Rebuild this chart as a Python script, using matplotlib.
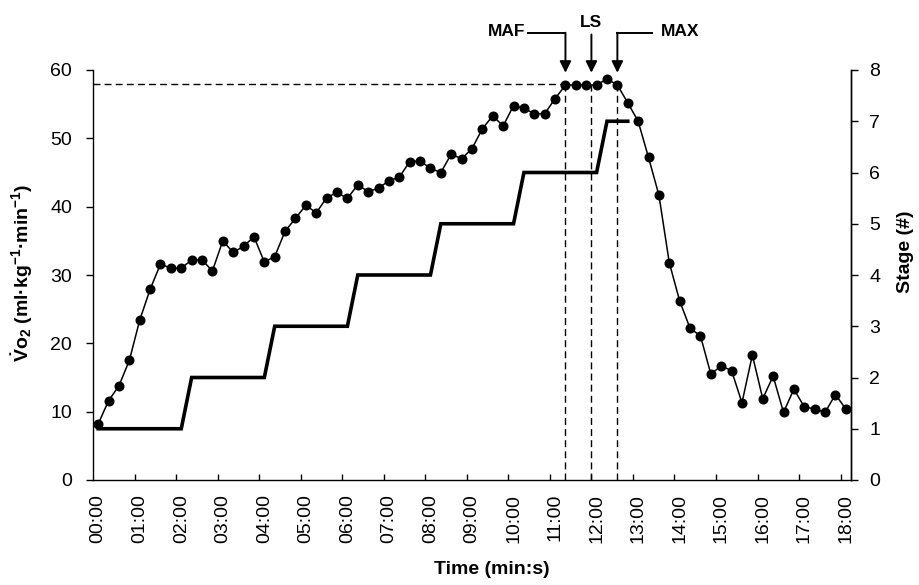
import numpy as np
import matplotlib
matplotlib.use("Agg")
import matplotlib.pyplot as plt

plt.rcParams["font.family"] = ["Liberation Sans", "DejaVu Sans"]
plt.rcParams["mathtext.fontset"] = "custom"
plt.rcParams["mathtext.rm"] = "Liberation Sans:bold"
plt.rcParams["mathtext.it"] = "Liberation Sans:bold:italic"
plt.rcParams["mathtext.bf"] = "Liberation Sans:bold"

# VO2 sampled every 15 s (ml/kg/min)
vo2 = [8.2, 11.6, 13.8, 17.5, 23.4, 27.9, 31.6, 31.0, 31.0, 32.2,
       32.2, 30.6, 35.0, 33.3, 34.2, 35.6, 31.9, 32.7, 36.4, 38.3,
       40.2, 39.1, 41.3, 42.1, 41.2, 43.2, 42.2, 42.7, 43.8, 44.3,
       46.6, 46.7, 45.6, 45.0, 47.7, 47.0, 48.5, 51.4, 53.3, 51.8,
       54.8, 54.4, 53.6, 53.6, 55.8, 57.8, 57.8, 57.8, 57.8, 58.7,
       57.8, 55.2, 52.5, 47.2, 41.7, 31.8, 26.2, 22.2, 21.1, 15.5,
       16.7, 16.0, 11.3, 18.3, 11.9, 15.2, 9.9, 13.3, 10.7, 10.4,
       9.9, 12.5, 10.4]

# stage number, same 15 s sampling, until end of test
stage = [1, 1, 1, 1, 1, 1, 1, 1, 1,
         2, 2, 2, 2, 2, 2, 2, 2,
         3, 3, 3, 3, 3, 3, 3, 3,
         4, 4, 4, 4, 4, 4, 4, 4,
         5, 5, 5, 5, 5, 5, 5, 5,
         6, 6, 6, 6, 6, 6, 6, 6,
         7, 7, 7]

# markers (minutes)
maf_t = 11.25
ls_t = 11.875
max_t = 12.5
plateau = 58.0

tick_labels = ["%02d:00" % m for m in range(19)]

t_vo2 = np.arange(len(vo2)) * 15 / 60.0
t_stage = np.arange(len(stage)) * 15 / 60.0

fig = plt.figure(figsize=(9.19, 5.85), dpi=100)
ax = fig.add_axes([93 / 919, 1 - 480 / 585, 758 / 919, 410 / 585])
ax2 = ax.twinx()

ax2.plot(t_stage, stage, color="black", linewidth=2.6, solid_joinstyle="miter", zorder=2)
ax.plot(t_vo2, vo2, color="black", linewidth=1.1, marker="o", markersize=6.2, zorder=3)

# dashed reference lines
dash = dict(color="black", linewidth=1.0, linestyle=(0, (5, 3)))
ax.plot([-0.125, maf_t], [plateau, plateau], **dash)
for xv in (maf_t, ls_t, max_t):
    ax.plot([xv, xv], [0, 57.8], **dash)

ax.set_xlim(-0.125, 18.125)
ax.set_ylim(0, 60)
ax2.set_ylim(0, 8)
ax.set_zorder(ax2.get_zorder() + 1)
ax.patch.set_visible(False)

ax.set_xticks(range(19))
ax.set_xticklabels(tick_labels, rotation=90, fontsize=14)
ax.set_xticks([k - 0.125 for k in range(1, 19)], minor=True)
ax.tick_params(axis="x", which="major", length=0, pad=10)
ax.tick_params(axis="x", which="minor", direction="in", length=4, width=1)
ax.set_yticks(range(0, 61, 10))
ax.tick_params(axis="y", labelsize=14, length=5, width=1, pad=10)
ax2.set_yticks(range(0, 9))
ax2.tick_params(axis="y", labelsize=14, length=5, width=1, pad=8)

for a in (ax, ax2):
    a.spines["top"].set_visible(False)
    for s in a.spines.values():
        s.set_linewidth(1.0)
ax2.spines["left"].set_visible(False)
ax2.spines["bottom"].set_visible(False)

# annotations above the plot
y_top = 65.45
y_tip = 59.6
line = dict(color="black", linewidth=1.4, clip_on=False)
arrow = dict(arrowstyle="-|>", color="black", lw=1.4, mutation_scale=17, shrinkA=0, shrinkB=0)
ax.plot([10.36, maf_t], [y_top, y_top], **line)
ax.annotate("", xy=(maf_t, y_tip), xytext=(maf_t, y_top), arrowprops=arrow, annotation_clip=False)
ax.annotate("", xy=(ls_t, y_tip), xytext=(ls_t, 65.2), arrowprops=arrow, annotation_clip=False)
ax.plot([13.34, max_t], [y_top, y_top], **line)
ax.annotate("", xy=(max_t, y_tip), xytext=(max_t, y_top), arrowprops=arrow, annotation_clip=False)
ax.text(10.28, 65.6, "MAF", ha="right", va="center", fontsize=12.5, fontweight="bold", clip_on=False)
ax.text(ls_t, 66.9, "LS", ha="center", va="center", fontsize=12.5, fontweight="bold", clip_on=False)
ax.text(13.54, 65.6, "MAX", ha="left", va="center", fontsize=12.5, fontweight="bold", clip_on=False)

fig.text(492 / 919, 1 - 570 / 585, "Time (min:s)", ha="center", va="center",
         fontsize=14, fontweight="bold")
fig.text(22 / 919, 1 - 273 / 585,
         r"$\dot{\mathrm{V}}\mathrm{o}_{2}$ (ml·kg$^{\mathrm{-1}}$·min$^{\mathrm{-1}}$)",
         ha="center", va="center", rotation=90, fontsize=14, fontweight="bold")
fig.text(906 / 919, 1 - 252 / 585, "Stage (#)", ha="center", va="center", rotation=90,
         fontsize=14, fontweight="bold")

fig.savefig("out.png", dpi=100)
